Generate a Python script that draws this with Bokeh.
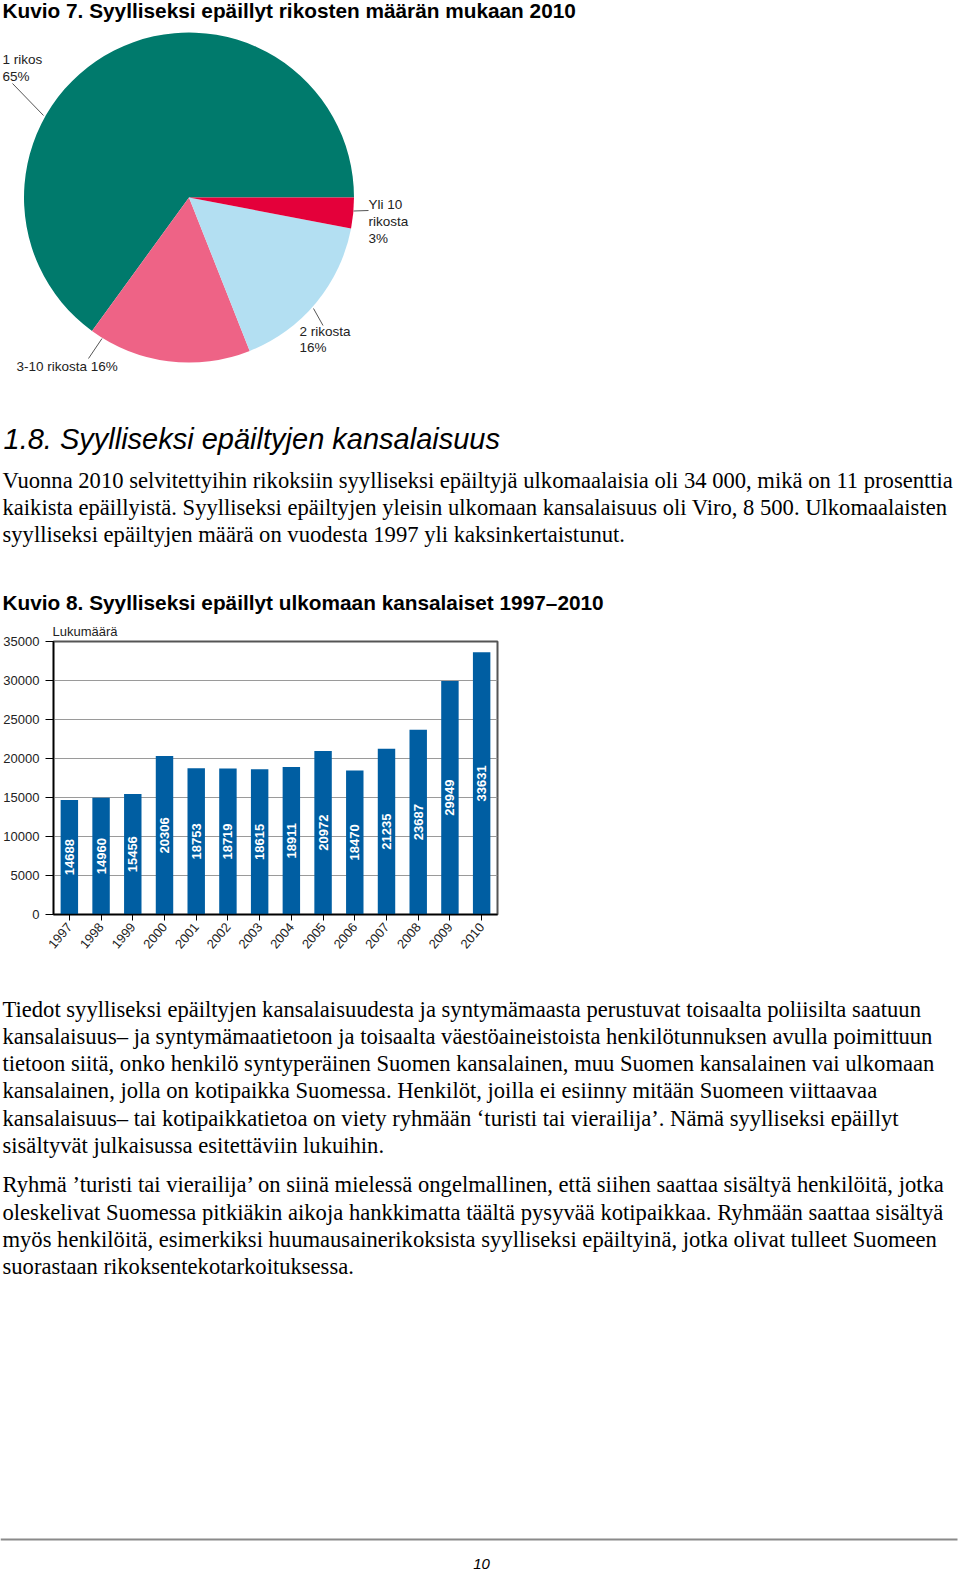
import math
from bokeh.plotting import figure
from bokeh.layouts import column
from bokeh.models import Range1d, FactorRange, FixedTicker, ColumnDataSource
from bokeh.core.properties import value
from bokeh.embed import file_html
from bokeh.resources import INLINE

# ---------------- data ----------------
pie_categories = ["1 rikos", "3-10 rikosta", "2 rikosta", "Yli 10 rikosta"]
pie_percent = [65, 16, 16, 3]
pie_colors = ["#007A6C", "#EE6386", "#B3DFF2", "#E4003A"]

years = ["1997", "1998", "1999", "2000", "2001", "2002", "2003",
         "2004", "2005", "2006", "2007", "2008", "2009", "2010"]
suspects = [14688, 14960, 15456, 20306, 18753, 18719, 18615,
            18911, 20972, 18470, 21235, 23687, 29949, 33631]
y_ticks = [0, 5000, 10000, 15000, 20000, 25000, 30000, 35000]

title7 = "Kuvio 7. Syylliseksi epäillyt rikosten määrän mukaan 2010"
title8 = "Kuvio 8. Syylliseksi epäillyt ulkomaan kansalaiset 1997\u20132010"
y_axis_title = "Lukumäärä"
heading = "1.8. Syylliseksi epäiltyjen kansalaisuus"
para1 = [
    "Vuonna 2010 selvitettyihin rikoksiin syylliseksi epäiltyjä ulkomaalaisia oli 34 000, mikä on 11 prosenttia",
    "kaikista epäillyistä. Syylliseksi epäiltyjen yleisin ulkomaan kansalaisuus oli Viro, 8 500. Ulkomaalaisten",
    "syylliseksi epäiltyjen määrä on vuodesta 1997 yli kaksinkertaistunut.",
]
para2 = [
    "Tiedot syylliseksi epäiltyjen kansalaisuudesta ja syntymämaasta perustuvat toisaalta poliisilta saatuun",
    "kansalaisuus\u2013 ja syntymämaatietoon ja toisaalta väestöaineistoista henkilötunnuksen avulla poimittuun",
    "tietoon siitä, onko henkilö syntyperäinen Suomen kansalainen, muu Suomen kansalainen vai ulkomaan",
    "kansalainen, jolla on kotipaikka Suomessa. Henkilöt, joilla ei esiinny mitään Suomeen viittaavaa",
    "kansalaisuus\u2013 tai kotipaikkatietoa on viety ryhmään \u2018turisti tai vierailija\u2019. Nämä syylliseksi epäillyt",
    "sisältyvät julkaisussa esitettäviin lukuihin.",
]
para3 = [
    "Ryhmä \u2019turisti tai vierailija\u2019 on siinä mielessä ongelmallinen, että siihen saattaa sisältyä henkilöitä, jotka",
    "oleskelivat Suomessa pitkiäkin aikoja hankkimatta täältä pysyvää kotipaikkaa. Ryhmään saattaa sisältyä",
    "myös henkilöitä, esimerkiksi huumausainerikoksista syylliseksi epäiltyinä, jotka olivat tulleet Suomeen",
    "suorastaan rikoksentekotarkoituksessa.",
]
page_number = "10"

SANS = "Liberation Sans"
SERIF = "Liberation Serif"
W = 960
PARA_SIZE = "22.6px"


def page_fig(h):
    p = figure(width=W, height=h, x_range=Range1d(0, W), y_range=Range1d(-h, 0),
               output_backend="svg", toolbar_location=None, min_border=0)
    p.frame_align = False
    p.axis.visible = False
    p.grid.visible = False
    p.outline_line_color = None
    p.background_fill_color = "white"
    p.border_fill_color = "white"
    return p


def txt(p, x, y, s, size, style="normal", font=SANS, color="#000000", align="left"):
    p.text(x=[x], y=[y], text=[s], text_font=value(font), text_font_size=value(size),
           text_font_style=value(style), text_color=color, text_align=align,
           text_baseline="alphabetic")


# ---------------- top: pie + heading + paragraph ----------------
HA = 617
pa = page_fig(HA)
YA = lambda ry: -ry

txt(pa, 2, YA(10), title7, "20.8px", "bold")

starts, ends = [], []
acc = 0.0
for v in pie_percent:
    starts.append(acc * 2 * math.pi / 100)
    acc += v
    ends.append(acc * 2 * math.pi / 100)
pie_src = ColumnDataSource(dict(cat=pie_categories, start=starts, end=ends, color=pie_colors))
pa.wedge(x=188.5, y=YA(197), radius=165, start_angle="start", end_angle="end",
         direction="anticlock", fill_color="color", line_color=None, source=pie_src)

lab_col = "#222222"
lab_size = "13.5px"
pa.segment(x0=[12, 353, 313, 101.5],
           y0=[YA(83), YA(210.5), YA(308), YA(338)],
           x1=[43, 368, 322.5, 88],
           y1=[YA(115), YA(210), YA(325), YA(358)],
           line_color="#555555", line_width=1)
txt(pa, 2, YA(59.2), pie_categories[0], lab_size, color=lab_col)
txt(pa, 2, YA(75.5), f"{pie_percent[0]}%", lab_size, color=lab_col)
txt(pa, 368, YA(204), "Yli 10", lab_size, color=lab_col)
txt(pa, 368, YA(220.5), "rikosta", lab_size, color=lab_col)
txt(pa, 368, YA(237.5), f"{pie_percent[3]}%", lab_size, color=lab_col)
txt(pa, 299, YA(331), pie_categories[2], lab_size, color=lab_col)
txt(pa, 299, YA(347), f"{pie_percent[2]}%", lab_size, color=lab_col)
txt(pa, 16, YA(366), f"{pie_categories[1]} {pie_percent[1]}%", lab_size, color=lab_col)

txt(pa, 3, YA(438), heading, "29px", "italic")
for i, line in enumerate(para1):
    txt(pa, 2, YA(480.2 + 27.1 * i), line, PARA_SIZE, font=SERIF)

txt(pa, 2, YA(601.5), title8, "20.8px", "bold")

# ---------------- bar chart ----------------
FRAME_L, FRAME_W, FRAME_T, FRAME_H = 53, 444, 641 - HA, 273
HB = 972 - HA
pb = figure(width=W, height=HB, x_range=FactorRange(*years), y_range=Range1d(0, 35000),
            output_backend="svg", toolbar_location=None,
            min_border_left=FRAME_L, min_border_right=W - FRAME_L - FRAME_W,
            min_border_top=FRAME_T, min_border_bottom=HB - FRAME_T - FRAME_H)
pb.frame_align = False
pb.background_fill_color = "white"
pb.border_fill_color = "white"
pb.outline_line_color = "#555555"
pb.outline_line_width = 2
pb.title.text = y_axis_title
pb.title.align = "left"
pb.title.offset = -1
pb.title.standoff = 6
pb.title.text_font = SANS
pb.title.text_font_size = "13px"
pb.title.text_font_style = "normal"
pb.title.text_color = lab_col

pb.vbar(x=years, top=suspects, width=0.55, fill_color="#005EA2", line_color=None)
pb.text(x=years, y=[v / 2 for v in suspects], text=[str(v) for v in suspects],
        angle=math.pi / 2, text_align="center", text_baseline="middle",
        text_color="white", text_font=value(SANS), text_font_size=value("13px"),
        text_font_style=value("bold"))

pb.xgrid.grid_line_color = None
pb.ygrid.grid_line_color = "#9a9a9a"
pb.ygrid.grid_line_width = 1
pb.ygrid.ticker = FixedTicker(ticks=y_ticks)
pb.yaxis.ticker = FixedTicker(ticks=y_ticks)
pb.yaxis.minor_tick_line_color = None
for ax in (pb.xaxis[0], pb.yaxis[0]):
    ax.axis_line_color = "black"
    ax.axis_line_width = 1.5
    ax.major_tick_in = 0
    ax.major_tick_line_color = "black"
    ax.major_label_text_font = SANS
    ax.major_label_text_font_size = "13px"
    ax.major_label_text_color = "#222222"
pb.yaxis.major_tick_out = 8
pb.yaxis.major_label_standoff = 6
pb.xaxis.major_tick_out = 6
pb.xaxis.major_label_standoff = 4
pb.xaxis.major_label_orientation = math.radians(50)

# ---------------- bottom text ----------------
HC = 600
pc = page_fig(HC)
YC = lambda ry: -(ry - 972)
for i, line in enumerate(para2):
    txt(pc, 2, YC(1008.6 + 27.27 * i), line, PARA_SIZE, font=SERIF)
for i, line in enumerate(para3):
    txt(pc, 2, YC(1184.1 + 27.4 * i), line, PARA_SIZE, font=SERIF)
pc.line(x=[0, 957], y=[YC(1539), YC(1539)], line_color="#8a8a8a", line_width=2)
txt(pc, 481, YC(1563), page_number, "15px", "italic", align="center")

layout = column(pa, pb, pc)
open("out.html", "w").write(file_html(layout, INLINE))
